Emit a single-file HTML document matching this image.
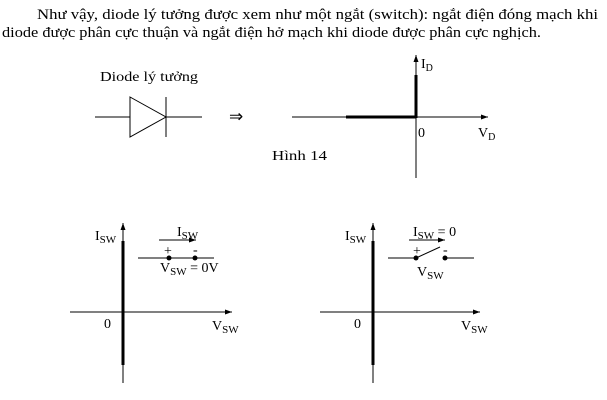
<!DOCTYPE html>
<html><head><style>
body{margin:0;background:#fff;width:607px;height:400px;overflow:hidden}
svg{display:block}
text{font-family:"Liberation Serif",serif;fill:#000}
</style></head><body>
<svg width="607" height="400" viewBox="0 0 607 400">
<defs><marker id="a" markerWidth="8" markerHeight="6" refX="7" refY="3" orient="auto"><path d="M0,0.5L7,3L0,5.5" fill="#000"/></marker></defs>
<text x="37" y="19" font-size="15" textLength="561" lengthAdjust="spacingAndGlyphs">Như vậy, diode lý tưởng được xem như một ngắt (switch): ngắt điện đóng mạch khi</text>
<text x="2" y="37" font-size="15" textLength="539" lengthAdjust="spacingAndGlyphs">diode được phân cực thuận và ngắt điện hở mạch khi diode được phân cực nghịch.</text>
<text x="100" y="81" font-size="14" textLength="98" lengthAdjust="spacingAndGlyphs">Diode lý tưởng</text>
<g stroke="#000" stroke-width="1" fill="none">
<line x1="95" y1="117" x2="202" y2="117"/>
<path d="M130,97L166,117L130,137Z" fill="#fff"/>
<line x1="166" y1="97" x2="166" y2="137"/>
<line x1="292" y1="117" x2="488" y2="117" marker-end="url(#a)"/>
<line x1="416" y1="178" x2="416" y2="55" marker-end="url(#a)"/>
</g>
<line x1="346" y1="117" x2="416" y2="117" stroke="#000" stroke-width="3"/>
<line x1="416" y1="75" x2="416" y2="118" stroke="#000" stroke-width="3"/>
<text x="229" y="122" font-size="17">⇒</text>
<text x="421" y="68" font-size="14">I<tspan font-size="10" dy="3">D</tspan></text>
<text x="418" y="137" font-size="14">0</text>
<text x="478" y="137" font-size="14">V<tspan font-size="10" dy="3">D</tspan></text>
<text x="272" y="160" font-size="14" textLength="55" lengthAdjust="spacingAndGlyphs">Hình 14</text>

<g stroke="#000" stroke-width="1" fill="none">
<line x1="70" y1="312" x2="232" y2="312" marker-end="url(#a)"/>
<line x1="123" y1="383" x2="123" y2="223" marker-end="url(#a)"/>
<line x1="159" y1="240" x2="196" y2="240" marker-end="url(#a)"/>
<line x1="138" y1="258" x2="214" y2="258"/>
<line x1="320" y1="312" x2="480" y2="312" marker-end="url(#a)"/>
<line x1="373" y1="383" x2="373" y2="223" marker-end="url(#a)"/>
<line x1="409" y1="240" x2="445" y2="240" marker-end="url(#a)"/>
<line x1="388" y1="258" x2="416" y2="258"/>
<line x1="416" y1="258" x2="440" y2="247"/>
<line x1="445" y1="258" x2="474" y2="258"/>
</g>
<line x1="123" y1="241" x2="123" y2="365" stroke="#000" stroke-width="3"/>
<line x1="373" y1="241" x2="373" y2="365" stroke="#000" stroke-width="3"/>
<circle cx="169" cy="258" r="2.5"/><circle cx="195" cy="258" r="2.5"/>
<circle cx="416" cy="258" r="2.5"/><circle cx="445" cy="258" r="2.5"/>
<text x="95" y="240" font-size="14">I<tspan font-size="11" dy="3">SW</tspan></text>
<text x="177" y="236" font-size="14">I<tspan font-size="11" dy="3">SW</tspan></text>
<text x="164" y="255" font-size="14">+</text><text x="193" y="254" font-size="14">-</text>
<text x="160" y="272" font-size="14">V<tspan font-size="11" dy="3">SW</tspan><tspan dy="-3"> = 0V</tspan></text>
<text x="104" y="328" font-size="14">0</text>
<text x="212" y="330" font-size="14">V<tspan font-size="11" dy="3">SW</tspan></text>
<text x="345" y="240" font-size="14">I<tspan font-size="11" dy="3">SW</tspan></text>
<text x="413" y="236" font-size="14">I<tspan font-size="11" dy="3">SW</tspan><tspan dy="-3"> = 0</tspan></text>
<text x="413" y="255" font-size="14">+</text><text x="443" y="254" font-size="14">-</text>
<text x="417" y="276" font-size="14">V<tspan font-size="11" dy="3">SW</tspan></text>
<text x="354" y="328" font-size="14">0</text>
<text x="461" y="330" font-size="14">V<tspan font-size="11" dy="3">SW</tspan></text>
</svg>
</body></html>
